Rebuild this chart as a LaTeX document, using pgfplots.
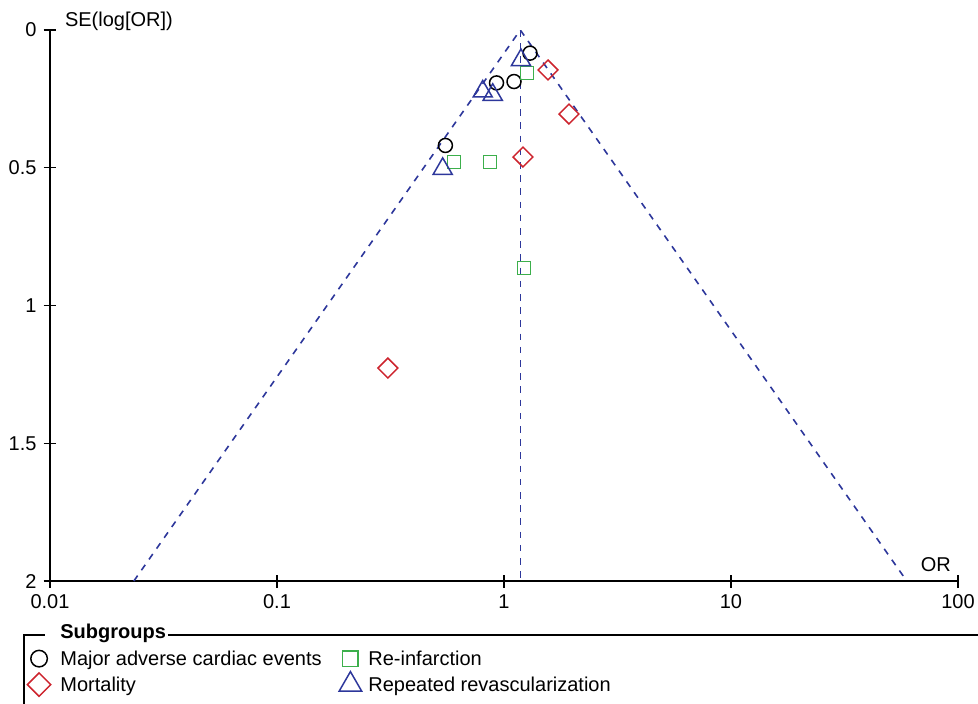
\documentclass[border=0pt]{standalone}
\usepackage{fontspec}
\setmainfont{Liberation Sans}
\usepackage{pgfplots}
\pgfplotsset{compat=1.18}
\definecolor{cgreen}{RGB}{60,175,75}
\definecolor{cred}{RGB}{205,35,45}
\definecolor{cblue}{RGB}{45,55,155}
\pgfdeclareplotmark{rdiamond}{%
  \pgfpathmoveto{\pgfqpoint{0pt}{1.414\pgfplotmarksize}}%
  \pgfpathlineto{\pgfqpoint{1.414\pgfplotmarksize}{0pt}}%
  \pgfpathlineto{\pgfqpoint{0pt}{-1.414\pgfplotmarksize}}%
  \pgfpathlineto{\pgfqpoint{-1.414\pgfplotmarksize}{0pt}}%
  \pgfpathclose\pgfusepathqstroke}
\begin{document}
\begin{tikzpicture}
\begin{axis}[
 scale only axis, width=454pt, height=275.5pt,
 xmode=log, xmin=0.01, xmax=100, ymin=0, ymax=2, y dir=reverse,
 axis lines*=left,
 axis line style={line width=0.6pt},
 xtick={0.01,0.1,1,10,100}, xticklabels={0.01,0.1,1,10,100},
 ytick={0,0.5,1,1.5,2}, yticklabels={0,0.5,1,1.5,2},
 xminorticks=false, yminorticks=false,
 tick align=center, major tick length=6.5pt, tick style={black, line width=0.6pt},
 /pgf/number format/assume math mode=true,
 xticklabel style={yshift=0pt},
 yticklabel style={xshift=0pt},
 every axis y label/.style={at={(axis description cs:0,1)}, anchor=base west, xshift=4pt, yshift=2pt},
 every axis x label/.style={at={(axis description cs:1,0)}, anchor=base east, yshift=5pt},
 ylabel={SE(log[OR])}, xlabel={OR},
 legend columns=2, legend cell align=left,
 legend style={draw=none, fill=none, at={(0,0)}, anchor=north west, xshift=-11.35pt, yshift=-34.6pt,
   inner sep=0pt, row sep=3.5pt,
   nodes={inner sep=0pt, text height=7.5pt, text depth=2pt, anchor=base west},
   /tikz/column 1/.style={column sep=4.95pt},
   /tikz/column 2/.style={column sep=8.7pt},
   /tikz/column 3/.style={column sep=3.3pt}},
 legend image code/.code={\path[draw=none,fill=none] (-5.7pt,-2pt) rectangle (5.7pt,7.5pt); \draw[overlay,#1,mark options={scale=1.18}] plot coordinates {(0pt,3.5pt)};},
]
\addplot[forget plot, cblue, line width=0.8pt, dash pattern=on 3.3pt off 3.3pt] coordinates {(0.02341,2) (1.18,0) (59.47,2)};
\addplot[forget plot, cblue, line width=0.8pt, dash pattern=on 3.3pt off 3.3pt] coordinates {(1.18,0) (1.18,2)};
\addplot[only marks, black, mark=o, mark size=3.5pt, line width=0.75pt] coordinates {(1.302,0.084) (1.107,0.187) (0.927,0.192) (0.552,0.419)};
\addlegendentry{Major adverse cardiac events}
\addplot[only marks, cgreen, mark=square, mark size=3.3pt, line width=0.75pt] coordinates {(1.263,0.156) (0.602,0.479) (0.868,0.479) (1.225,0.864)};
\addlegendentry{Re-infarction}
\addplot[only marks, cred, mark=rdiamond, mark size=3.5pt, line width=0.75pt] coordinates {(1.563,0.145) (1.933,0.305) (1.212,0.461) (0.308,1.227)};
\addlegendentry{Mortality}
\addplot[only marks, cblue, mark=triangle, mark size=5.5pt, line width=0.75pt] coordinates {(1.188,0.109) (0.806,0.223) (0.892,0.235) (0.537,0.504)};
\addlegendentry{Repeated revascularization}
\end{axis}
\node[inner sep=0pt, anchor=base west, font=\bfseries] (title) at (5pt,-28.5pt) {Subgroups};
\draw[line width=0.6pt] (-13pt,-90pt) -- (-13pt,-27pt) -- (-2.5pt,-27pt);
\draw[line width=0.6pt] ([xshift=0.8pt]title.east |- 0,-27pt) -- (480pt,-27pt);
\pgfresetboundingbox
\useasboundingbox (-25pt,-61pt) rectangle (464pt,290.5pt);
\end{tikzpicture}
\end{document}
